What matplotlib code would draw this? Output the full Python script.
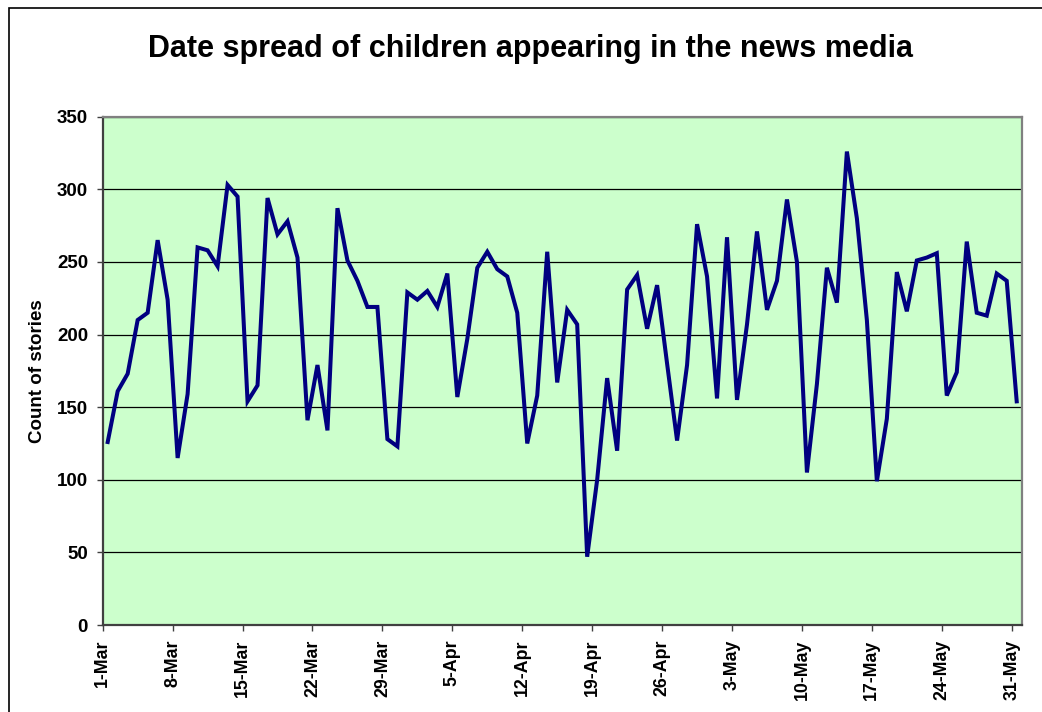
import matplotlib.pyplot as plt
from matplotlib.patches import Rectangle

plt.rcParams['font.family'] = ['Liberation Sans', 'DejaVu Sans']
plt.rcParams['font.weight'] = 'bold'

# daily story counts, 1-Mar .. 31-May (92 days)
stories = [126, 161, 173, 210, 215, 265, 224, 115, 159, 260,
           258, 247, 303, 295, 154, 165, 294, 269, 278, 253,
           141, 179, 134, 287, 251, 237, 219, 219, 128, 123,
           229, 224, 230, 219, 242, 157, 197, 246, 257, 245,
           240, 215, 125, 158, 257, 167, 217, 207, 47, 100,
           170, 120, 231, 241, 204, 234, 180, 127, 179, 276,
           240, 156, 267, 155, 207, 271, 217, 237, 293, 250,
           105, 166, 246, 222, 326, 280, 210, 99, 142, 243,
           216, 251, 253, 256, 158, 174, 264, 215, 213, 242,
           237, 154]
day = list(range(len(stories)))

tick_labels = ["1-Mar", "8-Mar", "15-Mar", "22-Mar", "29-Mar", "5-Apr", "12-Apr",
               "19-Apr", "26-Apr", "3-May", "10-May", "17-May", "24-May", "31-May"]
y_ticks = [0, 50, 100, 150, 200, 250, 300, 350]

fig = plt.figure(figsize=(10.42, 7.12), dpi=100)

# chart area frame (runs off the right/bottom edge like the original)
fig.patches.append(Rectangle((9 / 1042, -0.05), 1.1, 1 - 8 / 712 + 0.05,
                             transform=fig.transFigure, fill=False,
                             edgecolor='black', linewidth=1.2))

ax = fig.add_axes([102.7 / 1042, 1 - 625 / 712, 919 / 1042, (625 - 116.7) / 712])
ax.set_facecolor('#CCFFCC')

ax.plot(day, stories, color='#000080', linewidth=2.9, solid_joinstyle='miter')

ax.set_xlim(-0.5, len(stories) - 0.5)
ax.set_ylim(0, 350)
ax.set_yticks(y_ticks)
ax.set_xticks([7 * k - 0.5 for k in range(len(tick_labels))])
ax.set_xticklabels(tick_labels, rotation=90, fontsize=12.8, fontweight='bold')
ax.set_yticklabels([str(v) for v in y_ticks], fontsize=13.5, fontweight='bold')

ax.grid(axis='y', color='black', linewidth=0.9)
ax.set_axisbelow(True)
for s in ax.spines.values():
    s.set_color('#808080')
    s.set_linewidth(1.6)
ax.spines['left'].set_color('#404040')
ax.spines['bottom'].set_color('#404040')
ax.tick_params(direction='out', length=4.5, width=1, color='#404040', pad=6)

fig.text(531 / 1042, 1 - 57.3 / 712, "Date spread of children appearing in the news media",
         ha='center', va='baseline', fontsize=22, fontweight='bold')
fig.text(37 / 1042, 1 - 371 / 712, "Count of stories", rotation=90,
         ha='center', va='center', fontsize=13.5, fontweight='bold')

fig.savefig('out.png', dpi=100)
